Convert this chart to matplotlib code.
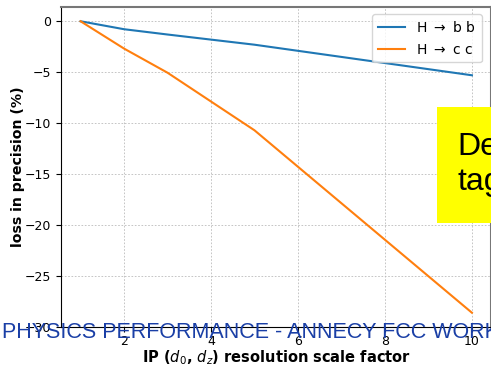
import matplotlib
matplotlib.use("Agg")
import matplotlib.pyplot as plt
from matplotlib.patches import Rectangle

# IP resolution scale factor and loss in precision (%) per channel
scale_factor = [1, 2, 3, 5, 10]
loss_hbb = [0.0, -0.78, -1.3, -2.3, -5.3]
loss_hcc = [0.0, -2.68, -5.05, -10.7, -28.6]
labels = ["H $\\rightarrow$ b b", "H $\\rightarrow$ c c"]

fig = plt.figure(figsize=(4.91, 3.66), dpi=100)
ax = fig.add_axes([61 / 491, 39 / 366, 1.0 - 61 / 491 + 0.001, 320 / 366])

ax.plot(scale_factor, loss_hbb, color="#1f77b4", lw=1.5, label=labels[0])
ax.plot(scale_factor, loss_hcc, color="#ff7f0e", lw=1.5, label=labels[1])

ax.set_xlim(0.55, 10.45)
ax.set_ylim(-30.0, 1.4)
ax.set_xticks([2, 4, 6, 8, 10])
ax.set_yticks([0, -5, -10, -15, -20, -25, -30])
ax.grid(True, color="#bbbbbb", linestyle=(0, (2, 2)), lw=0.6)
ax.tick_params(labelsize=9)
ax.tick_params(axis="x", pad=2.5)
for side in ("top", "right"):
    ax.spines[side].set_color("#777777")
    ax.spines[side].set_linewidth(1.5)

ax.set_xlabel("IP ($d_0$, $d_z$) resolution scale factor", fontsize=10.5,
              fontweight="bold", labelpad=0)
ax.set_ylabel("loss in precision (%)", fontsize=10.2, fontweight="bold",
              labelpad=0)
leg = ax.legend(loc="upper right", fontsize=10, bbox_to_anchor=(0.993, 1.0),
                labelspacing=0.6)

# slide overlays: highlight box and footer banner
fig.patches.append(Rectangle((437 / 491, (366 - 223) / 366), 60 / 491, 116 / 366,
                             transform=fig.transFigure, facecolor="#ffff00",
                             edgecolor="none", zorder=5))
fig.text(457 / 491, (366 - 190) / 366, "Deep\ntagging", fontsize=23,
         family="Liberation Sans", color="black", ha="left", va="baseline",
         linespacing=1.2, zorder=6)
fig.text(2 / 491, (366 - 338) / 366, "PHYSICS PERFORMANCE - ANNECY FCC WORKSHOP",
         fontsize=15.5, family="Liberation Sans", color="#1a3fa6",
         ha="left", va="baseline", zorder=6)

fig.savefig("out.png", dpi=100)
